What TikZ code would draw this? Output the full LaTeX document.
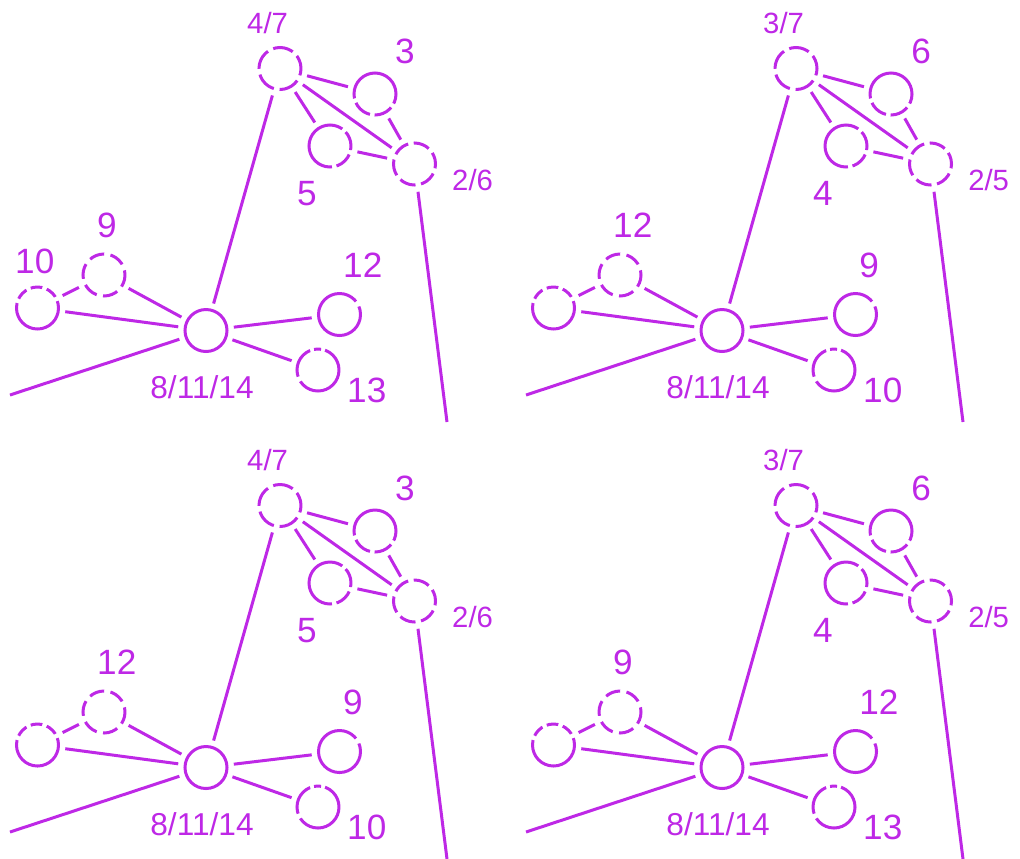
\documentclass[tikz,border=0pt]{standalone}
\usepackage{fontspec}
\setmainfont{Liberation Sans}
\definecolor{graphpurple}{RGB}{190,40,230}

\tikzset{
  ring/.style={circle,draw=graphpurple,line width=0.09cm,minimum size=1.26cm,inner sep=0pt,outer sep=0.21cm},
  apexring/.style={ring,dash pattern=on 17.5pt off 5pt,dash phase=6pt},
  upperring/.style={ring,dash pattern=on 60pt off 4pt on 16pt off 4pt on 16pt off 4pt on 10pt off 2pt},
  innerring/.style={ring,dash pattern=on 13pt off 4pt on 69pt off 4pt on 15pt off 4pt on 5pt off 2pt},
  cornerring/.style={ring,dash pattern=on 14pt off 4.8pt,dash phase=4pt},
  lobering/.style={ring,dash pattern=on 13pt off 5.5pt,dash phase=9pt},
  tipring/.style={ring,dash pattern=on 6pt off 4pt on 10pt off 4pt on 10pt off 4pt on 10pt off 4pt on 62pt off 2pt},
  eastring/.style={ring,dash pattern=on 7pt off 5pt on 102pt off 2pt},
  southring/.style={ring,dash pattern=on 22pt off 3.5pt on 6pt off 3.5pt on 27pt off 4.5pt on 49pt off 2pt},
  link/.style={draw=graphpurple,line width=0.09cm},
  big/.style={text=graphpurple,font=\fontsize{30}{32}\selectfont,inner sep=0pt},
  small/.style={text=graphpurple,font=\fontsize{25}{27}\selectfont,inner sep=0pt}
}

\begin{document}
\begin{tikzpicture}[x=0.03cm,y=-0.03cm]
\useasboundingbox (0,0) rectangle (1020,858);

\foreach \p/\dx/\dy/\la/\lb/\lc/\ld/\le/\lf/\lg/\lh in {
    a/0/0/{4/7}/3/5/{2/6}/9/10/12/13,
    b/516/0/{3/7}/6/4/{2/5}/12//9/10,
    c/0/437/{4/7}/3/5/{2/6}/12//9/10,
    d/516/437/{3/7}/6/4/{2/5}/9//12/13}
{
  \begin{scope}[shift={(\dx,\dy)}]
    % circles
    \node[apexring] (apex\p) at (280,68.5) {};
    \node[upperring] (upper\p) at (375,94) {};
    \node[innerring] (inner\p) at (330,146) {};
    \node[cornerring] (corner\p) at (414.5,164) {};
    \node[ring] (hub\p) at (206,330.5) {};
    \node[lobering] (lobe\p) at (104,275) {};
    \node[tipring] (tip\p) at (37.5,308) {};
    \node[eastring] (east\p) at (339.5,314.5) {};
    \node[southring] (south\p) at (318,370) {};
    \coordinate (sw\p) at (10,395);
    \coordinate (down\p) at (447,422);

    % numbers
    \node[small,anchor=base west] (apexlab\p) at (247,33) {\la};
    \node[big,anchor=base west] (upperlab\p) at (395,63) {\lb};
    \node[big,anchor=base west] (innerlab\p) at (297,205) {\lc};
    \node[small,anchor=base west] (cornerlab\p) at (452,190) {\ld};
    \node[big,anchor=base west] (lobelab\p) at (97,237) {\le};
    \node[big,anchor=base west] (tiplab\p) at (15,273) {\lf};
    \node[big,anchor=base west] (eastlab\p) at (343,277) {\lg};
    \node[big,anchor=base west] (southlab\p) at (347,402) {\lh};
    \node[font=\fontsize{27}{29}\selectfont,text=graphpurple,inner sep=0pt,anchor=base] (hublab\p) at (202,398) {8/11/14};

    % edges
    \draw[link] (apex\p) -- (upper\p);
    \draw[link] (apex\p) -- (inner\p);
    \draw[link] (apex\p) -- (corner\p);
    \draw[link] (upper\p) -- (corner\p);
    \draw[link] (inner\p) -- (corner\p);
    \draw[link] (apex\p) -- (hub\p);
    \draw[link] (hub\p) -- (lobe\p);
    \draw[link] (hub\p) -- (tip\p);
    \draw[link] (lobe\p) -- (tip\p);
    \draw[link] (hub\p) -- (east\p);
    \draw[link] (hub\p) -- (south\p);
    \draw[link] (hub\p) -- (sw\p);
    \draw[link] (corner\p) -- (down\p);
  \end{scope}
}
\end{tikzpicture}
\end{document}
